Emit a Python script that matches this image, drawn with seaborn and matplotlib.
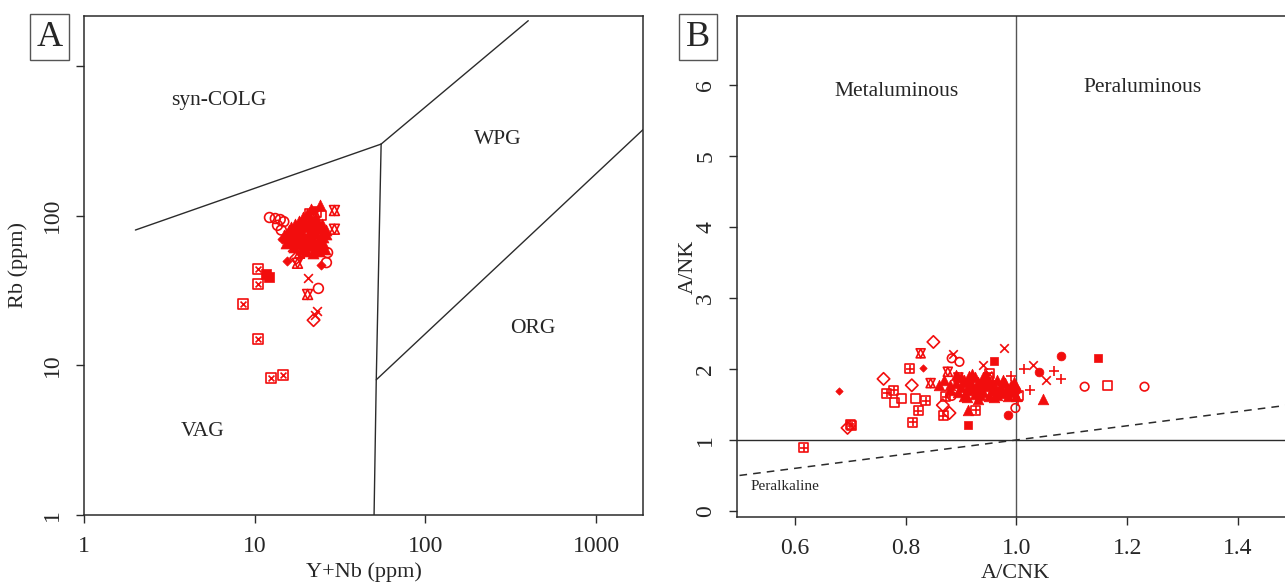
import numpy as np
import matplotlib
matplotlib.use("Agg")
import matplotlib.pyplot as plt
import seaborn as sns

sns.set_style("white")
plt.rcParams['font.family'] = ['Liberation Serif', 'DejaVu Serif']

RED = "#f20d0d"
LINE = "#2b2b2b"

# ---------------- Panel A data (Y+Nb vs Rb, ppm) ----------------
A_boxx_x = [10.4, 10.4, 8.5, 10.5, 12.4, 14.6]
A_boxx_y = [44, 35, 25.5, 15, 8.2, 8.6]
A_fsq_x = [11.6, 12.1]
A_fsq_y = [41, 39]
A_circ_x = [12.2, 13.2, 14.1, 14.8, 13.6, 14.3, 26.7, 26.3, 23.6, 15.5, 21.5]
A_circ_y = [97, 95.5, 94, 91, 86, 80, 56.5, 48.5, 32.6, 70, 60]
A_sq_x = [23, 21, 24.5, 19.5, 22]
A_sq_y = [105, 103, 100, 72, 66]
A_star_x = [29.3, 29.3, 20.4, 17.8, 18.3, 22.5]
A_star_y = [108, 81, 29.7, 48, 56, 104]
A_x_x = [20.4, 23.1, 22.5, 24.5, 16.5]
A_x_y = [38.5, 23.2, 21.5, 76, 62]
A_dia_x = [22.1, 17.5]
A_dia_y = [20.0, 52]
A_fdia_x = [15.4, 24.3, 14.5]
A_fdia_y = [50, 46.4, 70]
A_plus_x = [18.3, 20.5, 23.5]
A_plus_y = [52, 57, 64]
A_tri_x = [15.5, 16.0, 16.5, 17.0, 17.5, 18.0, 18.5, 19.0, 19.5, 20.0, 20.5, 21.0,
           21.5, 22.0, 22.5, 23.0, 23.5, 24.0, 24.5, 25.0, 19.0, 21.0, 22.0, 17.0,
           20.0, 18.0, 23.0, 26.0, 16.0, 20.5, 24.0, 21.5,
           14.8, 15.2, 16.2, 17.2, 18.2, 19.2, 20.2, 21.2, 22.2, 23.2, 24.2, 25.2,
           26.2, 18.8, 19.8, 21.8, 23.8, 17.8, 16.8, 15.8, 20.8, 22.8, 24.8, 25.8]
A_tri_y = [72, 68, 75, 70, 80, 66, 73, 78, 69, 85, 74, 64,
           80, 71, 60, 76, 68, 82, 63, 72, 90, 95, 88, 62,
           58, 85, 92, 75, 78, 70, 118, 110,
           74, 66, 84, 88, 92, 98, 102, 66, 78, 84, 70, 66,
           80, 60, 64, 56, 58, 76, 72, 80, 88, 96, 88, 60]

# Pearce et al. discrimination boundaries
A_colg_x = [2, 55]
A_colg_y = [80, 300]
A_wpg_top_x = [55, 400]
A_wpg_top_y = [300, 2000]
A_vag_x = [55, 51.5, 50]
A_vag_y = [300, 8, 1]
A_org_x = [51.5, 2000]
A_org_y = [8, 400]

# ---------------- Panel B data (A/CNK vs A/NK) ----------------
B_bplus_x = [0.616, 0.807, 0.766, 0.778, 0.813, 0.823, 0.836, 0.872, 0.868, 0.703, 0.926, 0.700]
B_bplus_y = [0.887, 2.0, 1.66, 1.70, 1.25, 1.41, 1.55, 1.61, 1.34, 1.2, 1.42, 1.22]
B_sq_x = [0.780, 0.793, 0.818, 1.164, 1.004, 0.950]
B_sq_y = [1.53, 1.58, 1.59, 1.77, 1.63, 1.88]
B_dia_x = [0.850, 0.760, 0.811, 0.867, 0.879, 0.695]
B_dia_y = [2.38, 1.86, 1.77, 1.49, 1.38, 1.17]
B_fdia_x = [0.679, 0.832]
B_fdia_y = [1.69, 2.01]
B_star_x = [0.827, 0.845, 0.876, 0.895]
B_star_y = [2.22, 1.80, 1.96, 1.88]
B_tri_x = [0.89, 0.90, 0.905, 0.91, 0.915, 0.92, 0.925, 0.93, 0.935, 0.94, 0.945, 0.95,
           0.955, 0.96, 0.965, 0.97, 0.975, 0.98, 0.985, 0.99, 0.995, 1.0, 0.91, 0.93,
           0.96, 0.88, 0.87, 0.86, 0.92, 0.94, 0.912, 1.047,
           0.895, 0.905, 0.915, 0.925, 0.935, 0.945, 0.955, 0.965, 0.975, 0.985, 0.995,
           1.0, 0.95, 0.96, 0.94, 0.92, 0.93, 0.97, 0.98, 0.99, 0.90, 0.89, 0.91, 0.88]
B_tri_y = [1.80, 1.75, 1.85, 1.70, 1.90, 1.78, 1.65, 1.82, 1.72, 1.68, 1.76, 1.62,
           1.80, 1.70, 1.85, 1.75, 1.66, 1.80, 1.72, 1.78, 1.68, 1.74, 1.60, 1.58,
           1.60, 1.70, 1.85, 1.78, 1.93, 1.88, 1.42, 1.58,
           1.68, 1.62, 1.78, 1.88, 1.64, 1.92, 1.70, 1.64, 1.84, 1.62, 1.82,
           1.62, 1.82, 1.78, 1.80, 1.72, 1.76, 1.70, 1.68, 1.72, 1.88, 1.92, 1.82, 1.78]
B_fsq_x = [0.912, 0.960, 1.148]
B_fsq_y = [1.21, 2.11, 2.15]
B_circ_x = [0.883, 0.897, 0.883, 1.123, 1.231, 0.998]
B_circ_y = [2.15, 2.10, 1.62, 1.75, 1.75, 1.45]
B_x_x = [0.886, 0.977, 0.939, 1.029, 1.054]
B_x_y = [2.21, 2.30, 2.06, 2.06, 1.85]
B_plus_x = [1.013, 1.067, 1.025, 1.081, 1.003, 0.990]
B_plus_y = [2.0, 1.97, 1.70, 1.86, 1.55, 1.90]
B_fcirc_x = [1.081, 0.984, 1.041, 1.0]
B_fcirc_y = [2.18, 1.35, 1.96, 1.70]
B_bx_x = [0.951]
B_bx_y = [1.93]

B_peralk_x = [0.5, 1.5]
B_peralk_y = [0.5, 1.5]

fig = plt.figure(figsize=(12.85, 5.85), dpi=100)
axA = fig.add_axes([84 / 1285, 70 / 585, 559 / 1285, 499 / 585])
axB = fig.add_axes([737 / 1285, 68 / 585, 556.5 / 1285, 501 / 585])

MS = 50
LW = 1.2


def open_pts(ax, x, y, marker, s=MS):
    sns.scatterplot(x=x, y=y, marker=marker, s=s, facecolor="none",
                    edgecolor=RED, linewidth=LW, ax=ax, zorder=3)


def line_pts(ax, x, y, marker, s=MS):
    sns.scatterplot(x=x, y=y, marker=marker, s=s, color=RED,
                    edgecolor=RED, linewidth=LW, ax=ax, zorder=3)


def fill_pts(ax, x, y, marker, s=MS):
    sns.scatterplot(x=x, y=y, marker=marker, s=s, color=RED,
                    edgecolor=RED, linewidth=0.5, ax=ax, zorder=3)


# ---------- Panel A ----------
for xs, ys in [(A_colg_x, A_colg_y), (A_wpg_top_x, A_wpg_top_y),
               (A_vag_x, A_vag_y), (A_org_x, A_org_y)]:
    sns.lineplot(x=xs, y=ys, color=LINE, linewidth=1.0, sort=False,
                 estimator=None, ax=axA)

open_pts(axA, A_boxx_x, A_boxx_y, "s")
line_pts(axA, A_boxx_x, A_boxx_y, "x", s=18)
fill_pts(axA, A_fsq_x, A_fsq_y, "s")
open_pts(axA, A_circ_x, A_circ_y, "o")
open_pts(axA, A_sq_x, A_sq_y, "s")
open_pts(axA, A_star_x, A_star_y, "^")
open_pts(axA, A_star_x, A_star_y, "v")
line_pts(axA, A_x_x, A_x_y, "x", s=40)
open_pts(axA, A_dia_x, A_dia_y, "D", s=40)
fill_pts(axA, A_fdia_x, A_fdia_y, "D", s=22)
line_pts(axA, A_plus_x, A_plus_y, "+", s=55)
fill_pts(axA, A_tri_x, A_tri_y, "^", s=62)

axA.set_xscale("log")
axA.set_yscale("log")
axA.set_xlim(1, 1880)
axA.set_ylim(1, 2150)
axA.set_xticks([1, 10, 100, 1000])
axA.set_xticklabels(["1", "10", "100", "1000"])
axA.set_yticks([1, 10, 100, 1000])
axA.set_yticklabels(["1", "10", "100", ""])
axA.minorticks_off()
axA.set_xlabel("Y+Nb (ppm)", fontsize=16, labelpad=4)
axA.set_ylabel("Rb (ppm)", fontsize=16, labelpad=10)

axA.text(6.2, 585, "syn-COLG", fontsize=15.5, ha="center", va="center")
axA.text(267, 321, "WPG", fontsize=15.5, ha="center", va="center")
axA.text(428, 17.6, "ORG", fontsize=15.5, ha="center", va="center")
axA.text(4.97, 3.63, "VAG", fontsize=15.5, ha="center", va="center")

# ---------- Panel B ----------
axB.axvline(1.0, color="#555555", linewidth=1.0, zorder=1)
axB.axhline(1.0, color=LINE, linewidth=1.0, zorder=1)
sns.lineplot(x=B_peralk_x, y=B_peralk_y, color=LINE, linewidth=1.1,
             linestyle=(0, (5, 4)), ax=axB)

open_pts(axB, B_bplus_x, B_bplus_y, "s", s=42)
line_pts(axB, B_bplus_x, B_bplus_y, "+", s=30)
open_pts(axB, B_sq_x, B_sq_y, "s", s=42)
open_pts(axB, B_dia_x, B_dia_y, "D", s=40)
fill_pts(axB, B_fdia_x, B_fdia_y, "D", s=14)
open_pts(axB, B_star_x, B_star_y, "^", s=42)
open_pts(axB, B_star_x, B_star_y, "v", s=42)
fill_pts(axB, B_tri_x, B_tri_y, "^", s=58)
fill_pts(axB, B_fsq_x, B_fsq_y, "s", s=36)
open_pts(axB, B_circ_x, B_circ_y, "o", s=38)
line_pts(axB, B_x_x, B_x_y, "x", s=38)
line_pts(axB, B_plus_x, B_plus_y, "+", s=58)
fill_pts(axB, B_fcirc_x, B_fcirc_y, "o", s=40)
open_pts(axB, B_bx_x, B_bx_y, "s", s=42)
line_pts(axB, B_bx_x, B_bx_y, "x", s=18)

axB.set_xlim(0.4955, 1.5)
axB.set_ylim(-0.085, 6.97)
axB.set_xticks([0.6, 0.8, 1.0, 1.2, 1.4])
axB.set_xticklabels(["0.6", "0.8", "1.0", "1.2", "1.4"])
axB.set_yticks([0, 1, 2, 3, 4, 5, 6])
axB.set_xlabel("A/CNK", fontsize=16, labelpad=4)
axB.set_ylabel("A/NK", fontsize=16, labelpad=-2)

axB.text(0.784, 5.9, "Metaluminous", fontsize=15.5, ha="center", va="center")
axB.text(1.227, 5.96, "Peraluminous", fontsize=15.5, ha="center", va="center")
axB.text(0.52, 0.34, "Peralkaline", fontsize=11, ha="left", va="center")

for ax in (axA, axB):
    for sp in ax.spines.values():
        sp.set_color(LINE)
        sp.set_linewidth(1.1)
    ax.tick_params(axis="both", which="major", direction="out", length=6,
                   width=1.0, color=LINE, labelsize=17, pad=9,
                   bottom=True, left=True)
    for lab in ax.get_yticklabels():
        lab.set_rotation(90)
        lab.set_va("center")
    ax.set_facecolor("white")
axB.spines["right"].set_visible(False)

box = dict(boxstyle="square,pad=0.18", facecolor="white", edgecolor="#555555",
           linewidth=1.0)
fig.text(49.5 / 1285, 1 - 37 / 585, "A", fontsize=26, ha="center", va="center",
         bbox=box)
fig.text(698 / 1285, 1 - 37 / 585, "B", fontsize=26, ha="center", va="center",
         bbox=box)

fig.savefig("out.png", dpi=100, facecolor="white")
